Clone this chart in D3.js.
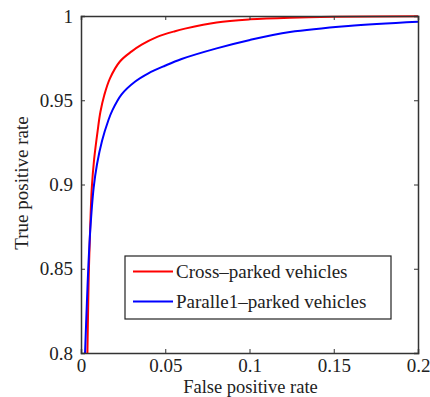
<!DOCTYPE html>
<html>
<head>
<meta charset="utf-8">
<script src="https://cdn.jsdelivr.net/npm/d3@7"></script>
<style>
  html, body { margin: 0; padding: 0; background: #fff; }
  svg { display: block; }
</style>
</head>
<body>
<svg id="chart" width="430" height="397"></svg>
<script>
// ROC curves: false positive rate vs. true positive rate
const crossFpr = [0.0038, 0.0043, 0.0047, 0.0054, 0.0064, 0.0078, 0.0099, 0.0115, 0.0138, 0.0172, 0.0231, 0.0301, 0.036, 0.0449, 0.0558, 0.0617, 0.0805, 0.1003, 0.124, 0.15, 0.2];
const crossTpr = [0.80, 0.83, 0.85, 0.873, 0.898, 0.915, 0.932, 0.943, 0.953, 0.963, 0.973, 0.979, 0.983, 0.9875, 0.991, 0.9925, 0.9962, 0.998, 0.999, 0.9995, 0.9998];

const parallelFpr = [0.0024, 0.0035, 0.0043, 0.0055, 0.0075, 0.0095, 0.0125, 0.0162, 0.0186, 0.0241, 0.032, 0.040, 0.0498, 0.0597, 0.0805, 0.1003, 0.124, 0.1586, 0.2];
const parallelTpr = [0.80, 0.83, 0.85, 0.873, 0.898, 0.912, 0.926, 0.938, 0.944, 0.9535, 0.961, 0.966, 0.9705, 0.9745, 0.9808, 0.9858, 0.9905, 0.9941, 0.9966];

const xTicks = [0, 0.05, 0.1, 0.15, 0.2];
const xTickLabels = ["0", "0.05", "0.1", "0.15", "0.2"];
const yTicks = [0.8, 0.85, 0.9, 0.95, 1];
const yTickLabels = ["0.8", "0.85", "0.9", "0.95", "1"];

const seriesNames = ["Cross\u2013parked vehicles", "Paralle1\u2013parked vehicles"];
const seriesColors = ["#ff0000", "#0000ff"];

// Pick the first installed serif face by comparing glyph widths against a fallback
function pickFont(candidates) {
  const ctx = document.createElement("canvas").getContext("2d");
  const sample = "mmmmmmmmmmlli0.95 Wwgq";
  for (const base of ["monospace", "sans-serif"]) {
    ctx.font = `40px ${base}`;
    const w0 = ctx.measureText(sample).width;
    for (const c of candidates) {
      ctx.font = `40px "${c}", ${base}`;
      if (Math.abs(ctx.measureText(sample).width - w0) > 0.5) return `"${c}", serif`;
    }
  }
  return "serif";
}
const serif = pickFont(["Liberation Serif", "Times New Roman", "Tinos", "Nimbus Roman", "FreeSerif", "DejaVu Serif", "Noto Serif"]);
const fontSize = 19;

const svg = d3.select("#chart");
const m = { left: 81, top: 16, right: 418, bottom: 353 };

const x = d3.scaleLinear().domain([0, 0.2]).range([m.left, m.right]);
const y = d3.scaleLinear().domain([0.8, 1]).range([m.bottom, m.top]);

svg.append("defs").append("clipPath").attr("id", "plotClip")
  .append("rect")
  .attr("x", m.left).attr("y", m.top - 2)
  .attr("width", m.right - m.left).attr("height", m.bottom - m.top + 2);

// Curves
const series = [
  d3.zip(crossFpr, crossTpr),
  d3.zip(parallelFpr, parallelTpr)
];
const line = d3.line().x(d => x(d[0])).y(d => y(d[1])).curve(d3.curveCatmullRom.alpha(0.5));

const plot = svg.append("g").attr("clip-path", "url(#plotClip)");
series.forEach((s, i) => {
  plot.append("path")
    .datum(s)
    .attr("fill", "none")
    .attr("stroke", seriesColors[i])
    .attr("stroke-width", 2)
    .attr("stroke-linejoin", "round")
    .attr("d", line);
});

// Axes, ticks pointing inward on all four sides
const tickLen = 4;

const xAxisB = d3.axisBottom(x).tickValues(xTicks).tickSize(-tickLen).tickFormat((d, i) => xTickLabels[i]).tickPadding(6);
const xAxisT = d3.axisTop(x).tickValues(xTicks).tickSize(-tickLen).tickFormat("");
const yAxisL = d3.axisLeft(y).tickValues(yTicks).tickSize(-tickLen).tickFormat((d, i) => yTickLabels[i]).tickPadding(tickLen + 4);
const yAxisR = d3.axisRight(y).tickValues(yTicks).tickSize(-tickLen).tickFormat("");

function style(g) {
  g.attr("font-family", serif).attr("font-size", fontSize);
  g.select(".domain").attr("stroke", "#333").attr("stroke-width", 1.5);
  g.selectAll(".tick line").attr("stroke", "#333").attr("stroke-width", 1);
  g.selectAll(".tick text").attr("fill", "#222");
}

svg.append("g").attr("transform", `translate(0,${m.bottom})`).call(xAxisB).call(style);
svg.append("g").attr("transform", `translate(0,${m.top})`).call(xAxisT).call(style);
svg.append("g").attr("transform", `translate(${m.left},0)`).call(yAxisL).call(style);
svg.append("g").attr("transform", `translate(${m.right},0)`).call(yAxisR).call(style);

// Axis titles
svg.append("text")
  .attr("x", (m.left + m.right) / 2 + 1)
  .attr("y", 393)
  .attr("text-anchor", "middle")
  .attr("font-family", serif)
  .attr("font-size", 18.5)
  .attr("fill", "#222")
  .text("False positive rate");

svg.append("text")
  .attr("transform", `translate(28,${183}) rotate(-90)`)
  .attr("text-anchor", "middle")
  .attr("font-family", serif)
  .attr("font-size", fontSize)
  .attr("fill", "#222")
  .text("True positive rate");

// Legend
const legend = svg.append("g");
legend.append("rect")
  .attr("x", 125).attr("y", 256)
  .attr("width", 266).attr("height", 63)
  .attr("fill", "#fff").attr("stroke", "#222").attr("stroke-width", 1.2);

const legendY = [271.5, 301.5];
seriesNames.forEach((name, i) => {
  legend.append("line")
    .attr("x1", 133).attr("x2", 173)
    .attr("y1", legendY[i]).attr("y2", legendY[i])
    .attr("stroke", seriesColors[i]).attr("stroke-width", 2);
  legend.append("text")
    .attr("x", 176).attr("y", legendY[i])
    .attr("dy", "0.35em")
    .attr("font-family", serif)
    .attr("font-size", fontSize)
    .attr("fill", "#222")
    .text(name);
});
</script>
</body>
</html>
